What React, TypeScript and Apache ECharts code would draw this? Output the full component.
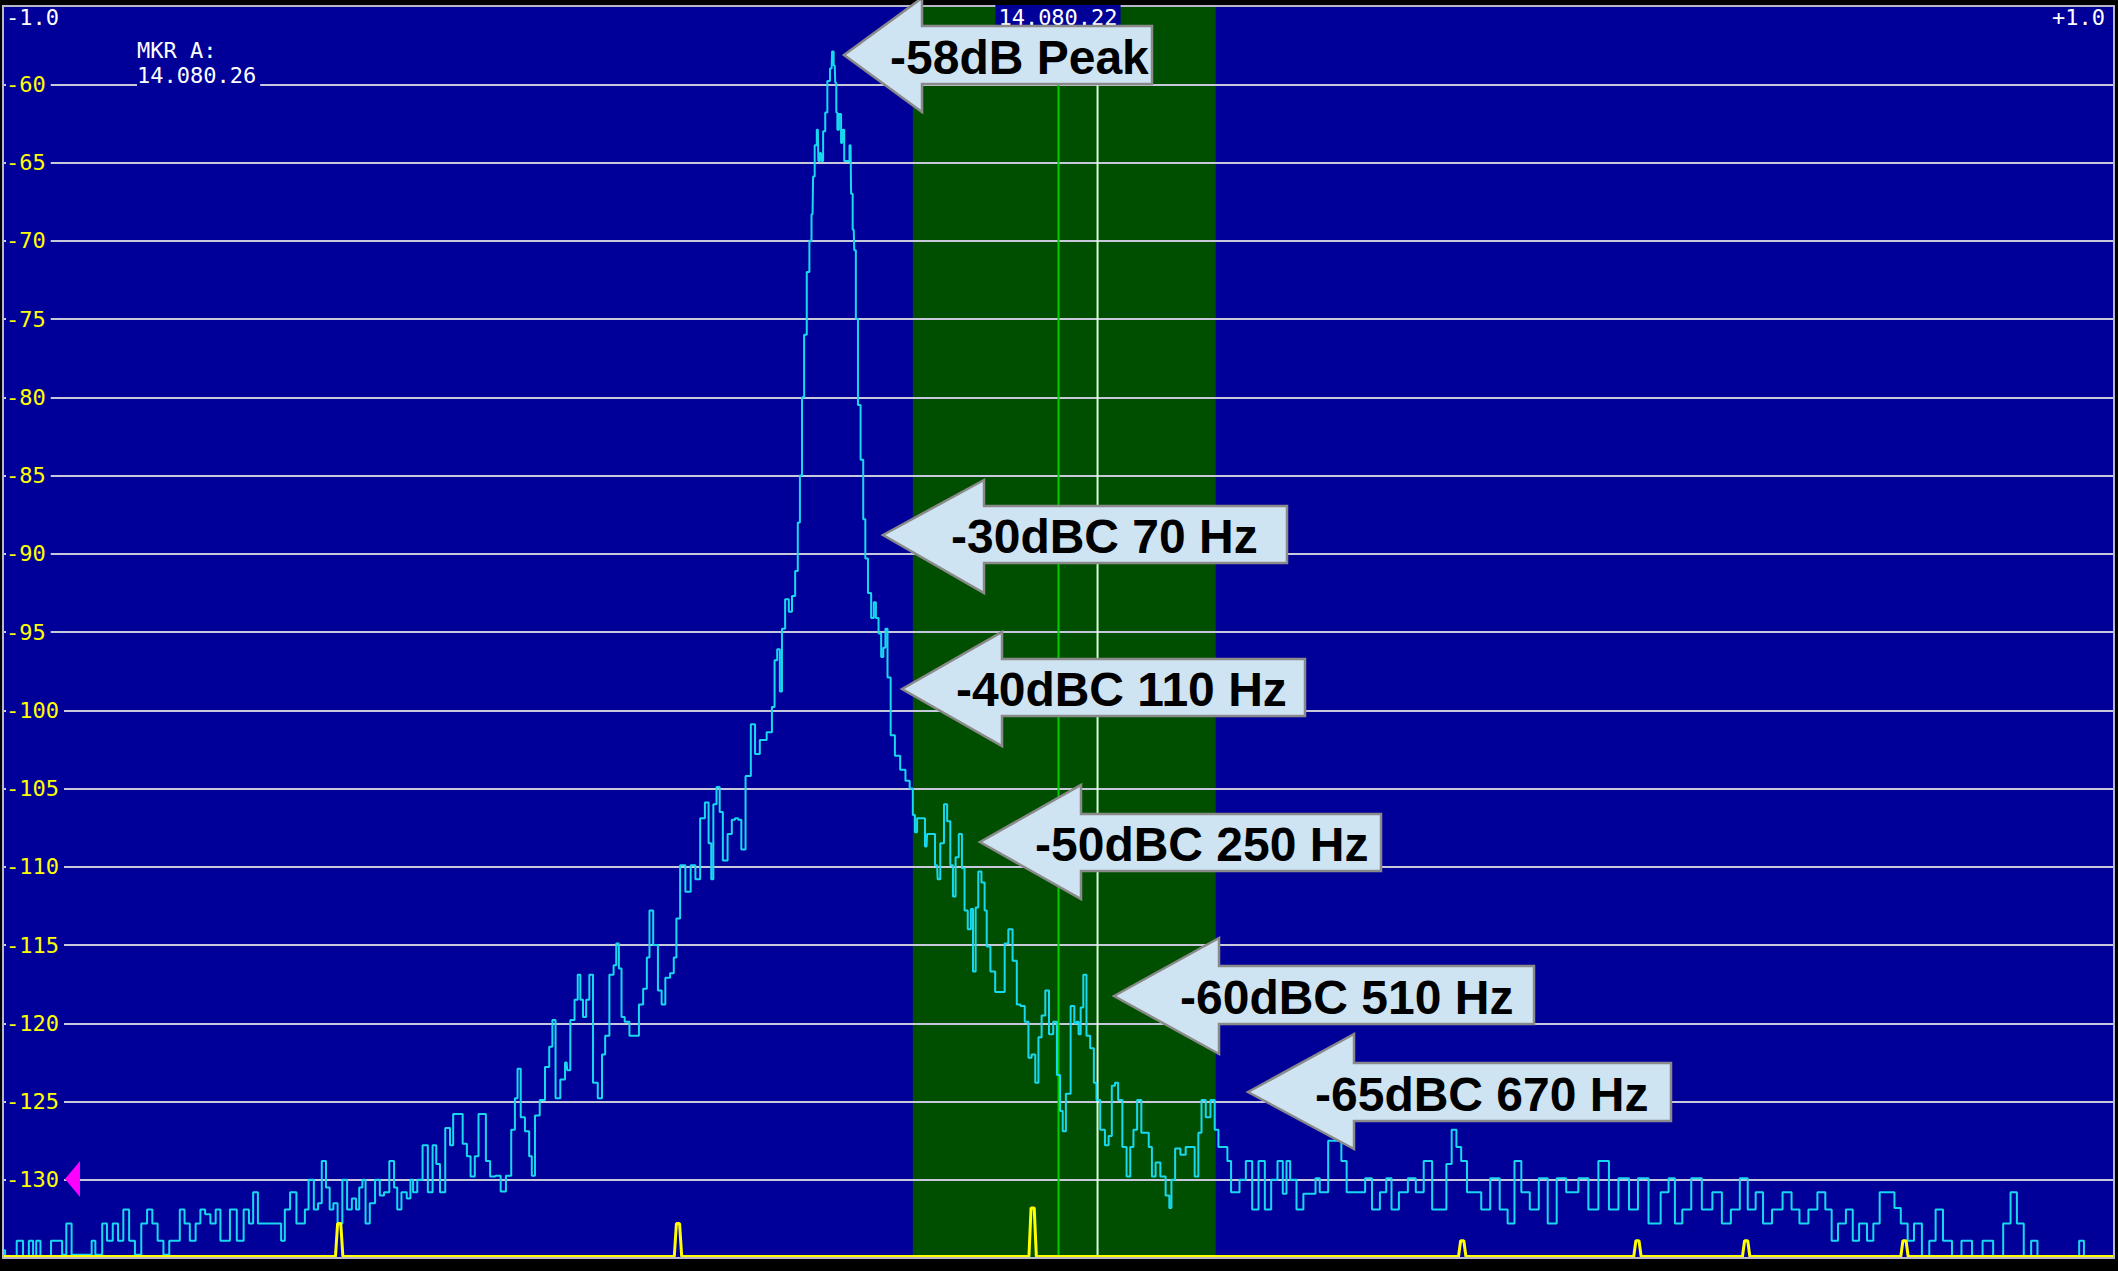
import React, { useEffect, useRef } from "react";
import * as echarts from "echarts";

// ---- Data (frequency offset in Hz from 14.080.22, level in dB) ----
const NOISE_LEFT: [number, number][] = [
  [-1000, -134.5], [-996, -135], [-990, -135], [-984, -133.9], [-978, -135], [-973, -133.9], [-970, -135],
  [-967, -133.9], [-962, -135], [-958, -135], [-951, -133.9], [-946, -133.9], [-942, -134.8], [-938, -132.8],
  [-936, -132.8], [-934, -134.8], [-927, -134.8], [-918, -134.8], [-914, -133.9], [-911, -134.8], [-908, -134.8],
  [-904, -132.8], [-899, -133.9], [-893, -132.8], [-889, -133.9], [-883, -131.9], [-878, -133.9], [-872, -134.8],
  [-866, -132.8], [-861, -131.9], [-856, -132.8], [-851, -133.9], [-845, -134.8], [-840, -133.9], [-835, -133.9],
  [-830, -131.9], [-826, -132.8], [-820, -133.9], [-815, -132.8], [-811, -131.9], [-806, -132.2], [-801, -132.8],
  [-796, -131.9], [-792, -133.9], [-788, -133.9], [-782, -131.9], [-775, -133.9], [-769, -131.9], [-765, -132.8],
  [-761, -130.8], [-756, -132.8], [-747, -132.8], [-738, -132.8], [-735, -133.9], [-731, -131.9], [-725, -130.8],
  [-719, -132.8], [-715, -132.8], [-713, -131.9], [-708, -130], [-703, -131.9], [-700, -131.5], [-696, -128.8],
  [-692, -130.5], [-689, -131.9], [-685, -131.5], [-681, -132.8], [-676, -130], [-672, -131.9], [-667, -131.2],
  [-664, -131.9], [-661, -130.5], [-658, -130], [-655, -132.8], [-650, -131.5], [-645, -130], [-641, -131],
  [-637, -130.8], [-631, -128.8], [-628, -130.5], [-625, -131.9], [-620, -130.8], [-615, -131.2], [-613, -130],
  [-610, -130.8], [-605, -130], [-600, -127.8], [-595, -130.8], [-591, -127.8], [-588, -129], [-584, -130.8],
  [-578, -126.7], [-575, -127.8], [-572, -125.8], [-567, -125.8], [-562, -127.7], [-559, -128.5], [-555, -129.8],
  [-551, -128.5], [-548, -125.8], [-544, -125.8], [-541, -128.8], [-536, -129.8],
];

const FLANK_LEFT: [number, number][] = [
  [-531, -129.75], [-526, -130.75], [-521, -129.75], [-516, -126.8], [-514, -124.8], [-511, -122.9], [-508, -126],
  [-503, -126.9], [-500, -128.5], [-498, -129.75], [-494, -125.9], [-489, -124.9], [-484, -122.8], [-481, -121.5],
  [-478, -119.8], [-475, -124.8], [-469, -123.6], [-466, -122.5], [-465, -123], [-460, -119.8], [-457, -118.5],
  [-454, -116.9], [-452, -118.5], [-449, -119.6], [-446, -118.5], [-443, -116.9], [-439, -123.8], [-434, -124.8],
  [-431, -122], [-428, -120.8], [-423, -116.9], [-420, -116.3], [-418, -114.9], [-415, -116.5], [-413, -119.6],
  [-409, -119.9], [-404, -120.8], [-399, -120.8], [-396, -118.8], [-391, -117.8], [-389, -115.8], [-386, -112.8],
  [-382, -115], [-377, -117.9], [-375, -118.8], [-370, -117.1], [-366, -116.8], [-363, -115.8], [-361, -113.3],
  [-356, -109.9], [-351, -111.6], [-346, -109.9], [-342, -110.8], [-337, -106.9], [-333, -105.9], [-330, -108.5],
  [-328, -110.8], [-326, -106], [-322, -104.9], [-320, -106.5], [-316, -109.6], [-311, -107.9], [-308, -107],
  [-305, -106.9], [-302, -107], [-299, -108.9], [-294, -104.2], [-289, -100.9], [-286, -102.8], [-280, -101.9],
  [-273, -101.4], [-270, -99.8], [-268, -96.8], [-265, -96.1], [-263, -98.8], [-261, -94.8], [-257, -92.9],
  [-254, -93.7], [-251, -92.7], [-248, -91.1], [-246, -88], [-244, -85],
];

const PEAK: [number, number][] = [
  [-242, -80], [-240, -76], [-237, -72], [-235, -70], [-233, -68.3], [-232, -65.9], [-230, -63.9], [-228, -62.9],
  [-227, -64.9], [-225, -64.4], [-224, -64.9], [-222, -63], [-220, -61.8], [-218, -59.8], [-215, -59], [-214, -57.9],
  [-212, -58.8], [-211, -59.9], [-210, -61.8], [-209, -62.9], [-207, -61.9], [-205, -63.75], [-204, -62.9],
  [-202, -64.9], [-199, -64.9], [-197, -63.9], [-196, -67], [-194, -69.3], [-193, -70.6], [-191, -75], [-189, -80.5],
  [-186, -84], [-184, -87.8], [-182, -90.3], [-179, -92.5], [-176, -94.1], [-174, -93.1], [-172, -94.1],
  [-169, -95.1], [-167, -96.6], [-165, -96], [-163, -94.8], [-161, -97.9],
];

const FLANK_RIGHT: [number, number][] = [
  [-157, -101.6], [-153, -102.9], [-147, -103.8], [-143, -104.5], [-139, -105], [-137, -106.7], [-135, -107.8],
  [-133, -106.9], [-128, -106.9], [-125, -108.7], [-124, -107.9], [-119, -107.9], [-115, -109.9], [-114, -110.8],
  [-110, -108.5], [-107, -106], [-104, -107.1], [-101, -109.9], [-99, -111.9], [-96, -109.4], [-93, -107.9],
  [-90, -110.1], [-88, -112.8], [-84, -114], [-82, -112.7], [-80, -116.7], [-77, -112.6], [-75, -110.3], [-71, -111],
  [-69, -112.8], [-67, -115.1], [-62, -116.7], [-58, -118], [-53, -118], [-49, -114.9], [-46, -114], [-41, -116],
  [-38, -118.8], [-34, -118.9], [-30, -119.9], [-27, -122.2], [-24, -122], [-20, -123.8], [-18, -120.9],
  [-14, -119.5], [-11, -117.9], [-7, -120.7], [-3, -119.9], [0, -123.3], [3, -125.6], [5, -126.9], [9, -124.5],
  [14, -118.9], [16, -120], [18, -119.9], [20, -120.7], [22, -119], [25, -116.9], [28, -120.8], [32, -121.6],
  [35, -123.8], [37, -124.9], [42, -126.8], [46, -127.8], [49, -127.2], [52, -124], [55, -123.8], [58, -124.9],
  [63, -127.9], [66, -129.8], [70, -127.9], [72, -126.8], [77, -124.9], [80, -127], [84, -127], [87, -127.9],
  [90, -129.8], [94, -128.9], [99, -129.8], [104, -131], [106, -131.8], [108, -130], [113, -128], [118, -128.4],
  [123, -127.9], [127, -127.9], [131, -129.8], [134, -127], [137, -124.9],
];

const NOISE_RIGHT: [number, number][] = [
  [142, -126], [146, -124.9], [150, -126.8], [153, -127.9], [158, -127.9], [162, -128.8], [165, -130.8],
  [169, -130.8], [174, -130], [181, -128.8], [186, -131.9], [193, -128.8], [198, -131.9], [205, -130], [210, -128.8],
  [215, -130.9], [217, -128.8], [222, -130], [229, -131.9], [235, -130.9], [241, -130.9], [246, -129.9],
  [249, -130.8], [253, -130.8], [258, -127.5], [262, -127.5], [266, -127.5], [270, -128.8], [276, -130.8],
  [283, -130.8], [288, -130.8], [293, -129.9], [301, -131.9], [308, -130.8], [313, -129.9], [318, -131.9],
  [327, -130.8], [335, -129.9], [342, -130.8], [350, -128.8], [358, -131.9], [365, -131.9], [370, -129],
  [375, -126.8], [379, -127.9], [384, -128.8], [390, -130.8], [397, -130.8], [404, -131.9], [414, -129.9],
  [422, -131.9], [429, -132.8], [435, -128.8], [442, -130.8], [451, -131.9], [459, -129.9], [468, -132.8],
  [476, -129.9], [486, -130.8], [499, -129.9], [505, -131.9], [518, -128.8], [525, -131.9], [536, -129.9],
  [545, -131.9], [553, -129.9], [565, -132.8], [576, -130.8], [580, -129.9], [588, -132.8], [594, -131.9],
  [605, -129.9], [614, -131.9], [625, -130.8], [632, -132.8], [642, -131.9], [649, -129.9], [657, -131.9],
  [664, -130.8], [671, -132.8], [681, -131.9], [691, -130.8], [698, -131.9], [706, -132.8], [715, -131.9],
  [723, -130.8], [730, -131.9], [735, -133.9], [742, -132.8], [750, -131.9], [755, -133.9], [762, -132.8],
  [770, -133.9], [774, -132.8], [782, -130.8], [790, -130.8], [794, -131.8], [802, -132.8], [807, -133.9],
  [814, -132.8], [822, -134.9], [828, -133.9], [834, -131.9], [842, -133.9], [851, -134.9], [860, -133.9],
  [871, -134.9], [880, -133.9], [891, -134.9], [899, -132.8], [905, -130.8], [911, -132.8], [918, -134.9],
  [925, -133.9], [930, -135], [965, -135], [969, -133.9], [974, -135], [1000, -135],
];

// second (yellow) trace: floor with a few small spurs
const YELLOW_SPUR_HZ = [-681, -360, -24, 383, 549, 652, 802];
const YELLOW_SPUR_DB = [-132.8, -132.8, -131.8, -133.9, -133.9, -133.9, -133.9];
const YELLOW_FLOOR_DB = -134.9;

const SPAN_HZ = [-1000, 1000];
const LEVEL_RANGE_DB = [-135, -55];
const LEVEL_STEP_DB = 5;
const PASSBAND_HZ = [-138, 149];
const CENTER_HZ = 0;
const MARKER_A_HZ = 37;

const TOP_LEFT_LABEL = "-1.0";
const TOP_RIGHT_LABEL = "+1.0";
const CENTER_LABEL = "14.080.22";
const MARKER_LABEL = "MKR A:\n14.080.26";

const CALLOUT_TEXTS = ["-58dB Peak", "-30dBC 70 Hz", "-40dBC 110 Hz", "-50dBC 250 Hz", "-60dBC 510 Hz", "-65dBC 670 Hz"];

// callout geometry (pixels): tip x, tip y, head back x, head top, head bottom, body top, body bottom, right, text x
const CALLOUT_GEOM = [
  [844, 55, 922, -2, 112, 26, 84, 1152, 890],
  [883, 535, 984, 480, 593, 506, 563, 1287, 951],
  [902, 689, 1002, 632, 746, 659, 716, 1305, 956],
  [980, 842, 1081, 785, 899, 814, 871, 1381, 1035],
  [1114, 996, 1219, 938, 1054, 966, 1024, 1534, 1180],
  [1248, 1092, 1354, 1034, 1149, 1063, 1121, 1671, 1315],
];

const PLOT_BLUE = "#000099";
const MONO = "'DejaVu Sans Mono', 'Liberation Mono', monospace";

function buildYellow(): [number, number][] {
  const pts: [number, number][] = [[SPAN_HZ[0], YELLOW_FLOOR_DB]];
  YELLOW_SPUR_HZ.forEach((hz, i) => {
    pts.push([hz - 4, YELLOW_FLOOR_DB], [hz - 2, YELLOW_SPUR_DB[i]], [hz + 1, YELLOW_SPUR_DB[i]], [hz + 3, YELLOW_FLOOR_DB]);
  });
  pts.push([SPAN_HZ[1], YELLOW_FLOOR_DB]);
  return pts;
}

export default function App() {
  const ref = useRef<HTMLDivElement>(null);

  useEffect(() => {
    document.body.style.margin = "0";
    document.body.style.background = "#000";
    const chart = echarts.init(ref.current!, null, { renderer: "svg" });

    const trace = [...NOISE_LEFT, ...FLANK_LEFT, ...PEAK, ...FLANK_RIGHT, ...NOISE_RIGHT];

    const callouts: any[] = [];
    CALLOUT_GEOM.forEach((g, i) => {
      const [tx, ty, hx, ht, hb, bt, bb, rx, textX] = g;
      callouts.push({
        type: "polygon",
        z: 20,
        shape: { points: [[tx, ty], [hx, ht], [hx, bt], [rx, bt], [rx, bb], [hx, bb], [hx, hb]] },
        style: { fill: "#cfe4f2", stroke: "#8a8a8a", lineWidth: 2.5 },
      });
      callouts.push({
        type: "text",
        z: 21,
        x: textX,
        y: (bt + bb) / 2 + 2,
        style: {
          text: CALLOUT_TEXTS[i],
          fill: "#000",
          fontFamily: "'Liberation Sans', Arial, sans-serif",
          fontWeight: "bold",
          fontSize: 48,
          textAlign: "left",
          textVerticalAlign: "middle",
        },
      });
    });

    const option: any = {
      animation: false,
      backgroundColor: "#000",
      grid: {
        left: 3,
        right: 4,
        top: 6,
        bottom: 13,
        show: true,
        backgroundColor: PLOT_BLUE,
        borderWidth: 0,
        outerBoundsMode: "none",
      },
      xAxis: {
        type: "value",
        min: SPAN_HZ[0],
        max: SPAN_HZ[1],
        show: false,
      },
      yAxis: [
        {
          type: "value",
          position: "left",
          min: LEVEL_RANGE_DB[0],
          max: LEVEL_RANGE_DB[1],
          interval: LEVEL_STEP_DB,
          z: 2,
          axisLine: { show: false },
          axisTick: { show: false },
          axisLabel: { show: false },
          splitLine: { show: true, lineStyle: { color: "#c8c8dc", width: 2 } },
        },
        {
          type: "value",
          position: "left",
          offset: 0,
          min: LEVEL_RANGE_DB[0],
          max: LEVEL_RANGE_DB[1],
          interval: LEVEL_STEP_DB,
          z: 6,
          axisLine: { show: false },
          axisTick: { show: false },
          splitLine: { show: false },
          axisLabel: {
            inside: true,
            margin: 3,
            showMinLabel: false,
            showMaxLabel: false,
            color: "#ffff00",
            fontFamily: MONO,
            fontSize: 22,
            backgroundColor: PLOT_BLUE,
            padding: [1, 5, 1, 0],
          },
        },
      ],
      series: [
        {
          type: "line",
          name: "passband",
          z: 1,
          silent: true,
          symbol: "none",
          data: [[PASSBAND_HZ[0], LEVEL_RANGE_DB[1]], [PASSBAND_HZ[1], LEVEL_RANGE_DB[1]]],
          lineStyle: { width: 0 },
          areaStyle: { color: "#004f00", opacity: 1, origin: "start" },
        },
        {
          type: "line",
          name: "center",
          z: 3,
          silent: true,
          symbol: "none",
          data: [[CENTER_HZ, LEVEL_RANGE_DB[1]], [CENTER_HZ, LEVEL_RANGE_DB[0]]],
          lineStyle: { color: "#00cc00", width: 2 },
        },
        {
          type: "line",
          name: "marker A",
          z: 3,
          silent: true,
          symbol: "none",
          data: [[MARKER_A_HZ, LEVEL_RANGE_DB[1]], [MARKER_A_HZ, LEVEL_RANGE_DB[0]]],
          lineStyle: { color: "#d8ffd8", width: 2 },
        },
        {
          type: "line",
          name: "spectrum",
          z: 4,
          symbol: "none",
          step: "middle",
          data: trace,
          lineStyle: { color: "#18d8f0", width: 2 },
        },
        {
          type: "line",
          name: "aux",
          z: 4,
          symbol: "none",
          data: buildYellow(),
          lineStyle: { color: "#ffff00", width: 3 },
        },
      ],
      graphic: [
        {
          type: "rect",
          z: 8,
          silent: true,
          shape: { x: 3, y: 6, width: 2111, height: 1252 },
          style: { fill: "none", stroke: "#b8b8c8", lineWidth: 2 },
        },
        {
          type: "polygon",
          z: 9,
          shape: { points: [[65, 1179], [80, 1161], [80, 1197]] },
          style: { fill: "#ff00ff" },
        },
        {
          type: "text",
          z: 9,
          x: 6,
          y: 17,
          style: { text: TOP_LEFT_LABEL, fill: "#fff", fontFamily: MONO, fontSize: 22, textAlign: "left", textVerticalAlign: "middle" },
        },
        {
          type: "text",
          z: 9,
          x: 2105,
          y: 17,
          style: { text: TOP_RIGHT_LABEL, fill: "#fff", fontFamily: MONO, fontSize: 22, textAlign: "right", textVerticalAlign: "middle" },
        },
        {
          type: "text",
          z: 9,
          x: 1058,
          y: 17,
          style: {
            text: CENTER_LABEL,
            fill: "#fff",
            fontFamily: MONO,
            fontSize: 22,
            textAlign: "center",
            textVerticalAlign: "middle",
            backgroundColor: PLOT_BLUE,
            padding: [1, 3, 1, 3],
          },
        },
        {
          type: "text",
          z: 9,
          x: 137,
          y: 38,
          style: {
            text: MARKER_LABEL,
            fill: "#fff",
            fontFamily: MONO,
            fontSize: 22,
            lineHeight: 25,
            textAlign: "left",
            textVerticalAlign: "top",
            backgroundColor: PLOT_BLUE,
            padding: [0, 4, 0, 0],
          },
        },
        ...callouts,
      ],
    };

    chart.setOption(option);
    return () => chart.dispose();
  }, []);

  return <div ref={ref} style={{ width: 2118, height: 1271, background: "#000" }} />;
}
